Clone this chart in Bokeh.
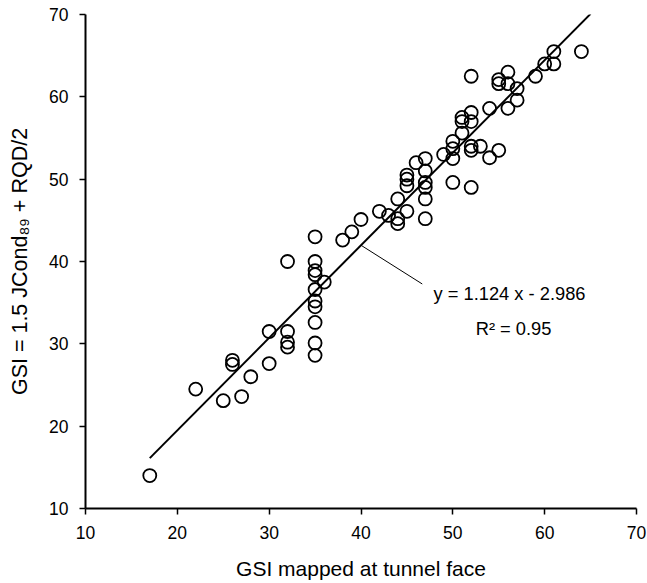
from bokeh.plotting import figure
from bokeh.embed import file_html
from bokeh.resources import INLINE
from bokeh.models import FixedTicker
from bokeh.core.properties import value

# GSI mapped at tunnel face (x) vs GSI = 1.5 JCond89 + RQD/2 (y)
gsi_face = [17, 22, 25, 26, 26, 27, 28, 30, 30,
            32, 32, 32, 32,
            35, 35, 35, 35, 35, 35, 35, 35, 35, 35,
            36, 38, 39, 40, 42, 43, 44, 44, 44,
            45, 45, 45, 45, 46,
            47, 47, 47, 47, 47, 47, 49,
            50, 50, 50, 50, 51, 51, 51,
            52, 52, 52, 52, 52, 52, 53, 54, 54,
            55, 55, 55, 56, 56, 56, 57, 57, 59, 60, 61, 61, 64]
gsi_calc = [14.0, 24.5, 23.1, 28.0, 27.5, 23.6, 26.0, 31.5, 27.6,
            40.0, 31.5, 30.2, 29.6,
            43.0, 40.0, 38.9, 38.4, 36.6, 35.2, 34.5, 32.6, 30.1, 28.6,
            37.5, 42.6, 43.6, 45.1, 46.1, 45.6, 47.6, 45.2, 44.6,
            50.5, 50.0, 49.2, 46.1, 52.0,
            52.5, 51.0, 49.6, 49.0, 47.6, 45.2, 53.0,
            54.6, 53.7, 52.5, 49.6, 57.5, 57.0, 55.6,
            62.5, 58.1, 57.0, 54.0, 53.5, 49.0, 54.0, 58.6, 52.6,
            62.1, 61.6, 53.5, 63.0, 61.6, 58.6, 61.0, 59.6, 62.5, 64.0, 65.5, 64.0, 65.5]

slope = 1.124
intercept = -2.986
fit_x = [17, 65]
fit_y = [slope * v + intercept for v in fit_x]

leader_x = [40.0, 46.67]
leader_y = [slope * 40.0 + intercept, 37.27]

ticks = [10, 20, 30, 40, 50, 60, 70]
eq_label = "y = 1.124 x - 2.986"
r2_label = "R\u00b2 = 0.95"

FONT = "Liberation Sans"

p = figure(width=647, height=583, x_range=(10, 70), y_range=(10, 70),
           output_backend="svg", toolbar_location=None,
           min_border_left=85, min_border_top=14, min_border_right=11,
           min_border_bottom=75)
p.outline_line_color = None
p.grid.visible = False

for ax in (p.xaxis[0], p.yaxis[0]):
    ax.ticker = FixedTicker(ticks=ticks)
    ax.axis_line_width = 2
    ax.major_tick_line_width = 1.5
    ax.major_tick_in = 0
    ax.major_tick_out = 6
    ax.minor_tick_line_color = None
    ax.major_label_text_font = FONT
    ax.major_label_text_font_size = "17.5px"
    ax.major_label_text_color = "black"
    ax.axis_label_text_font = FONT
    ax.axis_label_text_font_style = "normal"
    ax.axis_label_text_font_size = "21px"
    ax.axis_label_text_color = "black"

p.yaxis.axis_label_text_font_size = "21.5px"
p.xaxis.axis_label = "GSI mapped at tunnel face"
p.yaxis.axis_label = "GSI = 1.5 JCond\u2088\u2089 + RQD/2"
p.xaxis.major_label_standoff = 11
p.xaxis.axis_label_standoff = 15
p.yaxis.major_label_standoff = 11
p.yaxis.axis_label_standoff = 14

p.scatter(gsi_face, gsi_calc, marker="circle", size=13,
          fill_alpha=0, line_color="black", line_width=1.8)
p.line(fit_x, fit_y, line_color="black", line_width=2)
p.line(leader_x, leader_y, line_color="black", line_width=1)

p.text(x=[47.9], y=[36.13], text=[eq_label], text_font=value(FONT),
       text_font_size="18.3px", text_align="left", text_baseline="middle",
       text_color="black")
p.text(x=[56.61], y=[31.84], text=[r2_label], text_font=value(FONT),
       text_font_size="18.3px", text_align="center", text_baseline="middle",
       text_color="black")

open("out.html", "w").write(file_html(p, INLINE))
